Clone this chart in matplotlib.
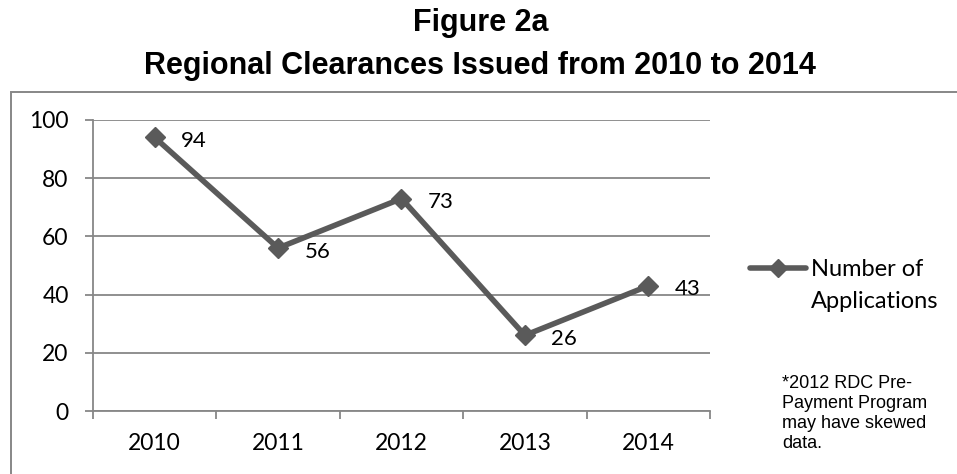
"""Figure 2a: regional clearances issued, 2010-2014."""

import matplotlib
matplotlib.use('Agg')
import matplotlib.pyplot as plt
from matplotlib.lines import Line2D
from matplotlib.patches import Rectangle

years = ['2010', '2011', '2012', '2013', '2014']
applications = [94, 56, 73, 26, 43]
y_ticks = [0, 20, 40, 60, 80, 100]

LINE = '#5a5a5a'
GRID = '#878787'
BODY_FONT = 'Lato'
W, H = 957, 474


def fy(px):
    # pixel row (from top) -> figure fraction
    return 1 - px / H


fig = plt.figure(figsize=(W / 100, H / 100), dpi=100)

# outer chart frame (runs off the right and bottom edges)
fig.add_artist(Rectangle((11 / W, -0.05), 1.0, 0.05 + fy(92),
                         transform=fig.transFigure, fill=False,
                         edgecolor=GRID, lw=1.4))

fig.text(0.502, fy(31), 'Figure 2a', ha='center', va='baseline',
         fontsize=22, fontweight='bold', family='Liberation Sans')
fig.text(0.502, fy(74), 'Regional Clearances Issued from 2010 to 2014',
         ha='center', va='baseline', fontsize=22, fontweight='bold',
         family='Liberation Sans')

ax = fig.add_axes([93 / W, fy(411), (710 - 93) / W, 291 / H])
x = list(range(len(years)))
ax.plot(x, applications, color=LINE, lw=4, marker='D', ms=10,
        markerfacecolor=LINE, markeredgecolor=LINE, zorder=3, clip_on=False)
for xi, v in zip(x, applications):
    ax.annotate(str(v), (xi, v), xytext=(19, -2.5), textcoords='offset points',
                ha='left', va='center', fontsize=16, family=BODY_FONT)

ax.set_xlim(-0.5, len(years) - 0.5)
ax.set_ylim(0, 100)
ax.set_yticks(y_ticks)
ax.set_yticklabels([str(t) for t in y_ticks], fontsize=16.5, family=BODY_FONT)
ax.set_xticks([i - 0.5 for i in range(len(years) + 1)])
ax.set_xticklabels([])
ax.set_xticks(x, minor=True)
ax.set_xticklabels(years, minor=True, fontsize=16.5, family=BODY_FONT)
ax.tick_params(axis='x', which='major', length=6, width=1.3, color=GRID, direction='out')
ax.tick_params(axis='x', which='minor', length=0, pad=16)
ax.tick_params(axis='y', length=6, width=1.3, color=GRID, pad=11.5)
ax.grid(axis='y', color=GRID, lw=1.3)
ax.set_axisbelow(True)
for side in ('top', 'right'):
    ax.spines[side].set_visible(False)
for side in ('left', 'bottom'):
    ax.spines[side].set_color(GRID)
    ax.spines[side].set_linewidth(1.3)

# legend, drawn by hand so the key sits on the first text line
ly = fy(268)
fig.add_artist(Line2D([750 / W, 806 / W], [ly, ly], transform=fig.transFigure,
                      color=LINE, lw=4, solid_capstyle='round'))
fig.add_artist(Line2D([778 / W], [ly], transform=fig.transFigure,
                      color=LINE, marker='D', ms=9, lw=0))
fig.text(811 / W, fy(270), 'Number of', ha='left', va='center', fontsize=17,
         family=BODY_FONT)
fig.text(811 / W, fy(301), 'Applications', ha='left', va='center',
         fontsize=17, family=BODY_FONT)

fig.text(782 / W, fy(375),
         '*2012 RDC Pre-\nPayment Program\nmay have skewed\ndata.',
         ha='left', va='top', fontsize=13, family='Liberation Sans',
         linespacing=1.22)

fig.savefig('out.png', dpi=100)
